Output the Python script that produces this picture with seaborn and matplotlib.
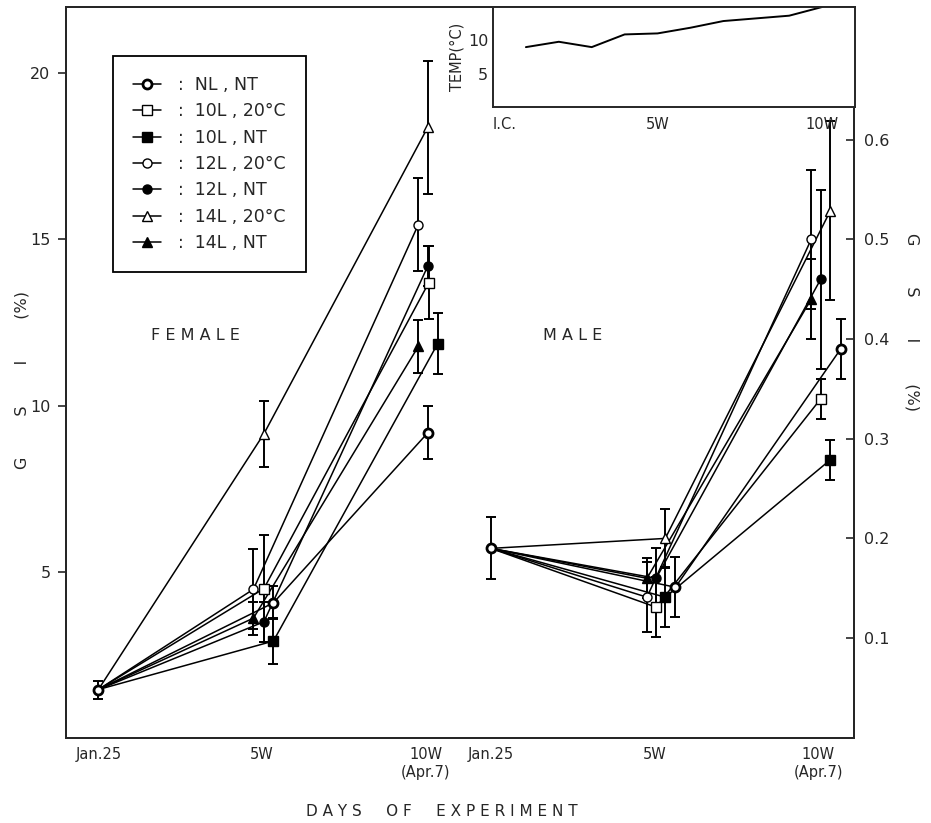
import numpy as np
import pandas as pd
import matplotlib
matplotlib.use("Agg")
import matplotlib.pyplot as plt
import seaborn as sns
from matplotlib.lines import Line2D

# ---------------- data ----------------
groups = ["NL,NT", "10L,20C", "10L,NT", "12L,20C", "12L,NT", "14L,20C", "14L,NT"]
legend_labels = [":  NL , NT", ":  10L , 20°C", ":  10L , NT", ":  12L , 20°C",
                 ":  12L , NT", ":  14L , 20°C", ":  14L , NT"]
weeks = [0, 5, 10]
tick_labels = ["Jan.25", "5W", "10W\n(Apr.7)", "Jan.25", "5W", "10W\n(Apr.7)"]

female_gsi = {
    "NL,NT":   [1.45, 4.06, 9.18],
    "10L,20C": [1.45, 4.49, 13.70],
    "10L,NT":  [1.45, 2.91, 11.86],
    "12L,20C": [1.45, 4.47, 15.45],
    "12L,NT":  [1.45, 3.49, 14.20],
    "14L,20C": [1.45, 9.15, 18.38],
    "14L,NT":  [1.45, 3.60, 11.78],
}
female_err = {
    "NL,NT":   [0.27, 0.50, 0.80],
    "10L,20C": [0.0, 1.60, 1.10],
    "10L,NT":  [0.0, 0.70, 0.92],
    "12L,20C": [0.0, 1.20, 1.40],
    "12L,NT":  [0.0, 0.60, 0.60],
    "14L,20C": [0.0, 1.00, 2.00],
    "14L,NT":  [0.0, 0.50, 0.80],
}
male_gsi = {
    "NL,NT":   [0.190, 0.151, 0.390],
    "10L,20C": [0.190, 0.131, 0.340],
    "10L,NT":  [0.190, 0.141, 0.279],
    "12L,20C": [0.190, 0.141, 0.500],
    "12L,NT":  [0.190, 0.160, 0.460],
    "14L,20C": [0.190, 0.200, 0.529],
    "14L,NT":  [0.190, 0.160, 0.440],
}
male_err = {
    "NL,NT":   [0.031, 0.030, 0.030],
    "10L,20C": [0.0, 0.030, 0.020],
    "10L,NT":  [0.0, 0.030, 0.020],
    "12L,20C": [0.0, 0.035, 0.070],
    "12L,NT":  [0.0, 0.030, 0.090],
    "14L,20C": [0.0, 0.030, 0.090],
    "14L,NT":  [0.0, 0.020, 0.040],
}
temp_weeks = [1, 2, 3, 4, 5, 6, 7, 8, 9, 10]
temp_c = [9.0, 9.8, 9.0, 10.9, 11.05, 11.9, 12.9, 13.3, 13.7, 15.0]

# ---------------- layout / style ----------------
MALE_SHIFT = 12
female_dodge = {"NL,NT": [0, 0.35, 0.07], "10L,20C": [0, 0.06, 0.10], "10L,NT": [0, 0.35, 0.37],
                "12L,20C": [0, -0.26, -0.22], "12L,NT": [0, 0.06, 0.07], "14L,20C": [0, 0.06, 0.07],
                "14L,NT": [0, -0.26, -0.22]}
male_dodge = {"NL,NT": [0, 0.64, 0.69], "10L,20C": [0, 0.05, 0.08], "10L,NT": [0, 0.33, 0.38],
              "12L,20C": [0, -0.23, -0.21], "12L,NT": [0, 0.05, 0.08], "14L,20C": [0, 0.33, 0.38],
              "14L,NT": [0, -0.23, -0.21]}
styles = {
    "NL,NT":   dict(marker="o", markerfacecolor="white", markeredgewidth=2.0, markersize=6.5),
    "10L,20C": dict(marker="s", markerfacecolor="white", markeredgewidth=1.0, markersize=6.5),
    "10L,NT":  dict(marker="s", markerfacecolor="black", markeredgewidth=1.0, markersize=6.5),
    "12L,20C": dict(marker="o", markerfacecolor="white", markeredgewidth=1.0, markersize=6.5),
    "12L,NT":  dict(marker="o", markerfacecolor="black", markeredgewidth=1.0, markersize=6.5),
    "14L,20C": dict(marker="^", markerfacecolor="white", markeredgewidth=1.0, markersize=7),
    "14L,NT":  dict(marker="^", markerfacecolor="black", markeredgewidth=1.0, markersize=7),
}
draw_order = ["14L,NT", "14L,20C", "12L,NT", "12L,20C", "10L,NT", "10L,20C", "NL,NT"]

sns.set_style("white")
plt.rcParams["font.family"] = ["DejaVu Sans"]
plt.rcParams["axes.linewidth"] = 1.4

fig = plt.figure(figsize=(9.31, 8.23), dpi=100)
ax = fig.add_axes([65.7 / 931, 85.3 / 823, (854 - 65.7) / 931, 730.7 / 823])
ax2 = ax.twinx()

def draw(axis, gsi, err, dodge, shift):
    for g in draw_order:
        xs = [w + shift + d for w, d in zip(weeks, dodge[g])]
        df = pd.DataFrame({"week": xs, "gsi": gsi[g]})
        every = [0, 1, 2] if g == "NL,NT" else [1, 2]
        sns.lineplot(data=df, x="week", y="gsi", ax=axis, color="black", lw=1.1,
                     markeredgecolor="black", markevery=every, zorder=3, **styles[g])
        e = np.array(err[g])
        mask = e > 0
        axis.errorbar(np.array(xs)[mask], np.array(gsi[g])[mask], yerr=e[mask], fmt="none",
                      ecolor="black", elinewidth=1.4, capsize=3.5, capthick=1.4, zorder=2)

draw(ax, female_gsi, female_err, female_dodge, 0)
draw(ax2, male_gsi, male_err, male_dodge, MALE_SHIFT)

ax.set_xlim(-1, 23.1)
ax.set_ylim(0, 22)
ax2.set_ylim(0, 22 / 30.0)
ax.set_xticks([w for w in weeks] + [w + MALE_SHIFT for w in weeks])
ax.set_xticklabels(tick_labels, fontsize=10.5)
ax.set_yticks([5, 10, 15, 20])
ax.set_yticklabels(["5", "10", "15", "20"], fontsize=11.5)
ax2.set_yticks([0.1, 0.2, 0.3, 0.4, 0.5, 0.6])
ax2.set_yticklabels(["0.1", "0.2", "0.3", "0.4", "0.5", "0.6"], fontsize=11.5)
ax.tick_params(axis="x", direction="in", length=6, width=1.2, pad=7)
ax.tick_params(axis="y", direction="out", length=6, width=1.2, pad=5)
ax2.tick_params(axis="y", direction="in", length=6, width=1.2, pad=7)
ax.set_xlabel("")
ax.set_ylabel("")
ax2.set_ylabel("")
fig.text(22 / 931, 1 - 380 / 823, "G        S        I        (%)", rotation=90,
         ha="center", va="center", fontsize=11.5)
fig.text(912 / 931, 1 - 322 / 823, "G        S        I        (%)", rotation=270,
         ha="center", va="center", fontsize=11.5)
fig.text(442 / 931, 1 - 811 / 823, "D A Y S     O F     E X P E R I M E N T",
         ha="center", va="center", fontsize=11)
ax.text(2.97, 12.1, "F E M A L E", ha="center", va="center", fontsize=11.5)
ax.text(14.5, 12.1, "M A L E", ha="center", va="center", fontsize=11.5)

handles = [Line2D([0], [0], color="black", lw=1.1, markeredgecolor="black", **styles[g]) for g in groups]
leg = ax.legend(handles, legend_labels, loc="upper left", bbox_to_anchor=(0.06, 0.933),
                borderaxespad=0, frameon=True, fancybox=False, edgecolor="black",
                fontsize=12.5, handlelength=1.6, handletextpad=1.0, labelspacing=0.48,
                borderpad=1.15)
leg.get_frame().set_linewidth(1.3)
leg.get_frame().set_alpha(1)

# inset
axi = fig.add_axes([493 / 931, 1 - 107.3 / 823, (855 - 493) / 931, 100.3 / 823])
sns.lineplot(x=temp_weeks, y=temp_c, ax=axi, color="black", lw=1.4)
axi.set_xlim(0, 11)
axi.set_ylim(0, 15)
axi.set_xticks(list(range(0, 11)))
axi.set_xticklabels(["I.C.", "", "", "", "", "5W", "", "", "", "", "10W"], fontsize=10.5)
axi.get_xticklabels()[0].set_ha("left")
axi.set_yticks([5, 10])
axi.set_yticklabels(["5", "10"], fontsize=11.5)
axi.tick_params(axis="both", direction="in", length=6, width=1.2)
axi.tick_params(axis="x", pad=7)
axi.set_ylabel("TEMP(°C)", fontsize=10.5, labelpad=2)
axi.set_xlabel("")
axi.set_facecolor("white")

fig.savefig("out.png", dpi=100)
